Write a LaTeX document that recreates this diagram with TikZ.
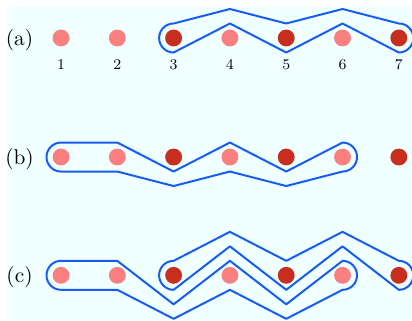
\documentclass[tikz,border=0pt]{standalone}
\usepackage{xcolor}
\usepackage{tikz}
\usetikzlibrary{positioning}

\definecolor{bgcyan}{RGB}{240,255,255}
\definecolor{lightdot}{RGB}{250,128,128}
\definecolor{darkdot}{RGB}{200,46,30}
\definecolor{snakeblue}{RGB}{22,92,238}

\begin{document}
\begin{tikzpicture}[
        bead/.style={
            circle,
            fill=#1,
            minimum size=0.3cm,
            inner sep=0pt
        },
        rowlabel/.style={font=\fontsize{10.8}{13}\selectfont},
        numlabel/.style={font=\fontsize{7.5}{9}\selectfont},
        snake/.style={
            draw=snakeblue,
            line width=1pt,
            line join=round
        }
    ]
        \def\h{0.2575}
        \useasboundingbox (-1.0835,-5.009) rectangle (6.234,0.675);
        \fill[bgcyan] (-0.959,-5.009) rectangle (6.234,0.551);

        % Beads and row labels
        \foreach \r/\y in {a/0, b/-2.114, c/-4.215} {
            \node[rowlabel] (lab\r) at (-0.737,\y-0.03) {(\r)};
            \foreach \i/\c in {1/lightdot,2/lightdot,3/darkdot,4/lightdot,5/darkdot,6/lightdot,7/darkdot}
                \node[bead=\c] (\r\i) at (\i-1,\y) {};
        }
        \foreach \i in {1,...,7}
            \node[numlabel, below=0.1cm of a\i] (num\i) {\i};

        % Snakes
        % (a) dark beads 3, 5, 7
        \draw[snake] (2,\h) -- (3,2*\h) -- (4,\h) -- (5,2*\h) -- (6,\h)
            arc[start angle=90, end angle=-90, radius=\h]
            -- (5,\h) -- (4,-\h) -- (3,\h) -- (2,-\h)
            arc[start angle=-90, end angle=-270, radius=\h] -- cycle;

        % (b) light beads 1, 2, 4, 6
        \begin{scope}[yshift=-2.114cm]
            \draw[snake] (0,\h) -- (1,\h) -- (2,-\h) -- (3,\h) -- (4,-\h) -- (5,\h)
                arc[start angle=90, end angle=-90, radius=\h]
                -- (4,-2*\h) -- (3,-\h) -- (2,-2*\h) -- (1,-\h) -- (0,-\h)
                arc[start angle=270, end angle=90, radius=\h] -- cycle;
        \end{scope}

        % (c) both, nested
        \begin{scope}[yshift=-4.215cm]
            \draw[snake] (2,\h) -- (3,3*\h) -- (4,\h) -- (5,3*\h) -- (6,\h)
                arc[start angle=90, end angle=-90, radius=\h]
                -- (5,2*\h) -- (4,-\h) -- (3,2*\h) -- (2,-\h)
                arc[start angle=-90, end angle=-270, radius=\h] -- cycle;
            \draw[snake] (0,\h) -- (1,\h) -- (2,-2*\h) -- (3,\h) -- (4,-2*\h) -- (5,\h)
                arc[start angle=90, end angle=-90, radius=\h]
                -- (4,-3*\h) -- (3,-\h) -- (2,-3*\h) -- (1,-\h) -- (0,-\h)
                arc[start angle=270, end angle=90, radius=\h] -- cycle;
        \end{scope}
    \end{tikzpicture}
\end{document}
